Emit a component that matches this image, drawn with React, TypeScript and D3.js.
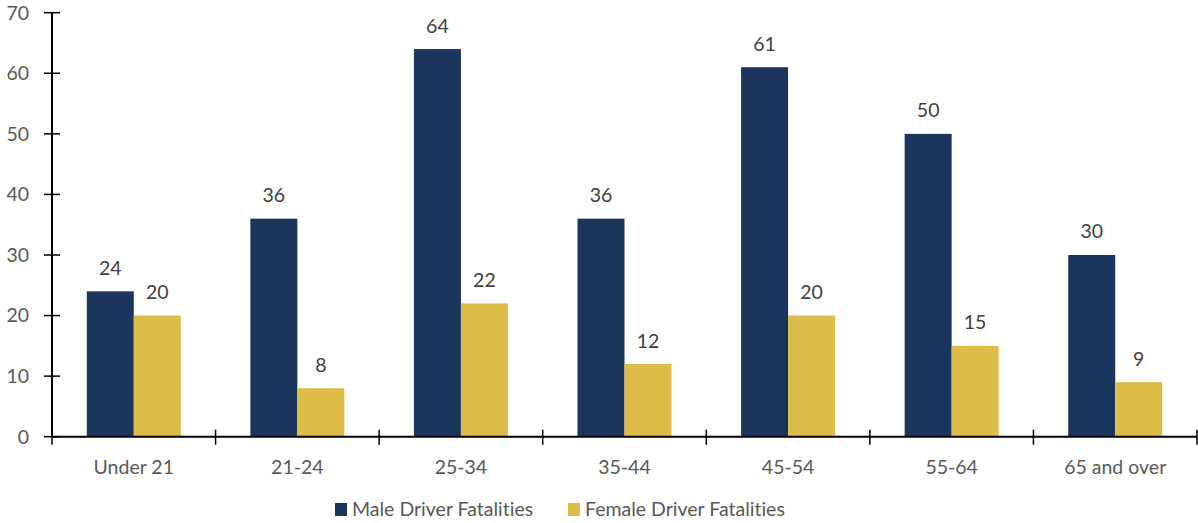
import React from "react";
import * as d3 from "d3";

const categories = ["Under 21", "21-24", "25-34", "35-44", "45-54", "55-64", "65 and over"];
const seriesNames = ["Male Driver Fatalities", "Female Driver Fatalities"];
const maleValues = [24, 36, 64, 36, 61, 50, 30];
const femaleValues = [20, 8, 22, 12, 20, 15, 9];
const yTicks = [0, 10, 20, 30, 40, 50, 60, 70];
const colors = ["#1B365D", "#DDBC48"];

const W = 1198;
const H = 523;
const FONT = "Lato, 'Open Sans', sans-serif";
const TEXT = "#595959";
const FS = 19.5;

export default function App() {
  const x0 = 52, x1 = 1197, yTop = 12.7, yBottom = 436.7;
  const x = d3.scaleBand<string>().domain(categories).range([x0, x1]).paddingInner(0).paddingOuter(0);
  const y = d3.scaleLinear().domain([0, 70]).range([yBottom, yTop]);
  const bw = x.bandwidth();
  const barW = bw * 0.2873;
  const series = [maleValues, femaleValues];

  return (
    <div style={{ position: "absolute", left: 0, top: 0 }}>
      <svg
        width={W}
        height={H}
        style={{ display: "block", background: "#fff", fontVariantLigatures: "none", fontFeatureSettings: "'liga' 0, 'clig' 0" }}
        fontFamily={FONT}
      >
        {categories.map((c, i) => {
          const cx = (x(c) as number) + bw / 2;
          return series.map((vals, s) => {
            const bx = cx - barW + s * barW;
            return (
              <g key={c + s}>
                <rect x={bx} y={y(vals[i])} width={barW} height={yBottom - y(vals[i])} fill={colors[s]} />
                <text x={bx + barW / 2} y={y(vals[i]) - 16.5} textAnchor="middle" fontSize={FS} fill="#404040">
                  {vals[i]}
                </text>
              </g>
            );
          });
        })}
        {/* y axis */}
        <line x1={x0} x2={x0} y1={yTop} y2={yBottom} stroke="#000" strokeWidth={2} />
        {yTicks.map((t) => (
          <g key={t}>
            <line x1={x0 - 8} x2={x0 + 8} y1={y(t)} y2={y(t)} stroke="#000" strokeWidth={1.5} />
            <text x={29} y={y(t)} dy="0.35em" textAnchor="end" fontSize={FS} fill={TEXT}>
              {t}
            </text>
          </g>
        ))}
        {/* x axis */}
        <line x1={x0} x2={x1} y1={yBottom} y2={yBottom} stroke="#000" strokeWidth={2} />
        {categories.map((c) => (
          <line key={"t" + c} x1={x(c) as number} x2={x(c) as number} y1={yBottom - 7} y2={yBottom + 8} stroke="#000" strokeWidth={1.5} />
        ))}
        <line x1={x1} x2={x1} y1={yBottom - 7} y2={yBottom + 8} stroke="#000" strokeWidth={1.5} />
        {categories.map((c) => (
          <text key={"l" + c} x={(x(c) as number) + bw / 2} y={467} dy="0.35em" textAnchor="middle" fontSize={FS} fill={TEXT}>
            {c}
          </text>
        ))}
        {/* legend */}
        {seriesNames.map((n, s) => {
          const lx = s === 0 ? 335 : 568;
          return (
            <g key={n}>
              <rect x={lx} y={503} width={12} height={13} fill={colors[s]} />
              <text x={lx + 17} y={509.5} dy="0.35em" fontSize={FS} fill={TEXT}>
                {n}
              </text>
            </g>
          );
        })}
      </svg>
    </div>
  );
}
